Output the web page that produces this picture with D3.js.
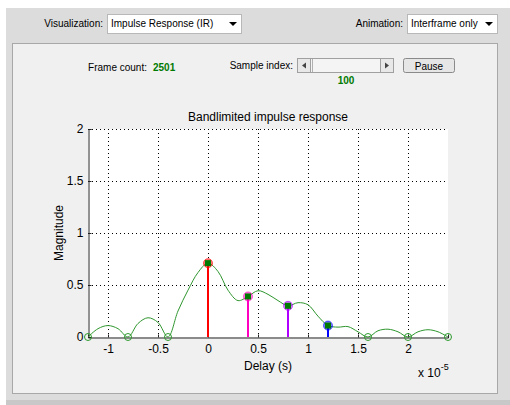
<!DOCTYPE html>
<html>
<head>
<meta charset="utf-8">
<script src="https://cdn.jsdelivr.net/npm/d3@7"></script>
<style>
  body { margin: 0; background: #fff; }
  text { font-family: "Liberation Sans", Arial, sans-serif; }
</style>
</head>
<body>
<script>
// curve (delay in units of 1e-5 s)
var curveDelay = [-1.2, -1.1, -1.0, -0.9, -0.8, -0.7, -0.6, -0.5, -0.4, -0.3, -0.2, -0.1, 0,
                  0.1, 0.2, 0.3, 0.4, 0.5, 0.6, 0.7, 0.8, 0.9, 1.0, 1.1, 1.2, 1.3, 1.4, 1.5,
                  1.6, 1.7, 1.8, 1.9, 2.0, 2.1, 2.2, 2.3, 2.4];
var curveMag = [0, 0.08, 0.11, 0.08, 0, 0.13, 0.185, 0.14, 0, 0.25, 0.45, 0.62, 0.71,
                0.63, 0.45, 0.35, 0.39, 0.445, 0.41, 0.35, 0.30, 0.33, 0.31, 0.20, 0.11, 0.095, 0.10, 0.05,
                0, 0.06, 0.075, 0.05, 0, 0.05, 0.07, 0.05, 0];
var tapDelay = [0, 0.4, 0.8, 1.2];
var tapMag = [0.71, 0.39, 0.30, 0.11];
var tapColor = ["#ff0000", "#ff00c0", "#b000ff", "#0000ff"];
var zeroDelay = [-1.2, -0.8, -0.4, 1.6, 2.0, 2.4];
var xTicks = [-1, -0.5, 0, 0.5, 1, 1.5, 2];
var yTicks = [0, 0.5, 1, 1.5, 2];

var svg = d3.select("body").append("svg")
    .attr("width", 510)
    .attr("height", 405);

// window frame
svg.append("rect").attr("x", 6).attr("y", 8).attr("width", 504).attr("height", 397).attr("fill", "#dcdcdc");
svg.append("rect").attr("x", 6).attr("y", 400).attr("width", 504).attr("height", 5).attr("fill", "#c8c8c8");
svg.append("rect").attr("x", 12.5).attr("y", 43.5).attr("width", 485).attr("height", 350)
    .attr("fill", "#f0f0f0").attr("stroke", "#a8a8a8");

// top controls
function dropdown(x, w, label, value) {
  svg.append("text").attr("x", x - 4).attr("y", 27).attr("text-anchor", "end")
      .attr("font-size", 10).attr("fill", "#000").text(label);
  svg.append("rect").attr("x", x + 0.5).attr("y", 14.5).attr("width", w).attr("height", 19)
      .attr("fill", "#fff").attr("stroke", "#b8b8b8");
  svg.append("text").attr("x", x + 4).attr("y", 27).attr("font-size", 10).text(value);
  var ax = x + w - 8;
  svg.append("path").attr("d", "M" + (ax - 4) + ",22 L" + (ax + 4) + ",22 L" + ax + ",26 Z").attr("fill", "#000");
}
dropdown(107, 134, "Visualization:", "Impulse Response (IR)");
dropdown(407, 90, "Animation:", "Interframe only");

svg.append("text").attr("x", 147).attr("y", 71).attr("text-anchor", "end").attr("font-size", 10).text("Frame count:");
svg.append("text").attr("x", 153).attr("y", 71).attr("font-size", 10).attr("font-weight", "bold")
    .attr("fill", "#007a00").text("2501");
svg.append("text").attr("x", 293).attr("y", 69).attr("text-anchor", "end").attr("font-size", 10).text("Sample index:");

// slider
svg.append("rect").attr("x", 297.5).attr("y", 58.5).attr("width", 96).attr("height", 14)
    .attr("fill", "#f4f4f4").attr("stroke", "#a0a0a0");
svg.append("rect").attr("x", 297.5).attr("y", 58.5).attr("width", 13).attr("height", 14)
    .attr("fill", "#e8e8e8").attr("stroke", "#a0a0a0");
svg.append("rect").attr("x", 380.5).attr("y", 58.5).attr("width", 13).attr("height", 14)
    .attr("fill", "#e8e8e8").attr("stroke", "#a0a0a0");
svg.append("path").attr("d", "M302,65.5 L306,62.5 L306,68.5 Z").attr("fill", "#444");
svg.append("path").attr("d", "M389,65.5 L385,62.5 L385,68.5 Z").attr("fill", "#444");
svg.append("line").attr("x1", 312.5).attr("x2", 312.5).attr("y1", 59).attr("y2", 72).attr("stroke", "#b0b0b0");
svg.append("text").attr("x", 346).attr("y", 84).attr("text-anchor", "middle").attr("font-size", 10)
    .attr("font-weight", "bold").attr("fill", "#007a00").text("100");

// pause button
svg.append("rect").attr("x", 403.5).attr("y", 58.5).attr("width", 51).attr("height", 14).attr("rx", 2)
    .attr("fill", "#e6e6e6").attr("stroke", "#8a8a8a");
svg.append("text").attr("x", 429).attr("y", 69.5).attr("text-anchor", "middle").attr("font-size", 10).text("Pause");

// plot
var margin = {left: 88, top: 129, right: 448, bottom: 337};
var x = d3.scaleLinear().domain([-1.2, 2.4]).range([margin.left, margin.right]);
var y = d3.scaleLinear().domain([0, 2]).range([margin.bottom, margin.top]);

svg.append("rect").attr("x", margin.left).attr("y", margin.top)
    .attr("width", margin.right - margin.left).attr("height", margin.bottom - margin.top).attr("fill", "#fff");

var grid = svg.append("g").attr("stroke", "#000").attr("stroke-dasharray", "1,3").attr("stroke-width", 1);
xTicks.forEach(function(t) {
  grid.append("line").attr("x1", Math.round(x(t)) + 0.5).attr("x2", Math.round(x(t)) + 0.5)
      .attr("y1", margin.top).attr("y2", margin.bottom);
});
yTicks.slice(1).forEach(function(t) {
  grid.append("line").attr("x1", margin.left).attr("x2", margin.right)
      .attr("y1", Math.round(y(t)) + 0.5).attr("y2", Math.round(y(t)) + 0.5);
});

function plain(d) { return String(d); }
svg.append("g")
    .attr("transform", "translate(0," + (margin.bottom + 0.5) + ")")
    .call(d3.axisBottom(x).tickValues(xTicks).tickSize(-3).tickPadding(7).tickFormat(plain))
    .call(function(g) {
      g.select(".domain").attr("stroke", "#262626");
      g.selectAll("line").attr("stroke", "#262626");
      g.selectAll("text").attr("font-size", 12).attr("fill", "#000").attr("font-family", "Liberation Sans, Arial");
    });
svg.append("g")
    .attr("transform", "translate(" + (margin.left + 0.5) + ",0)")
    .call(d3.axisLeft(y).tickValues(yTicks).tickSize(-3).tickPadding(5).tickFormat(plain))
    .call(function(g) {
      g.select(".domain").attr("stroke", "#262626");
      g.selectAll("line").attr("stroke", "#262626");
      g.selectAll("text").attr("font-size", 12).attr("fill", "#000").attr("font-family", "Liberation Sans, Arial");
    });

// titles
svg.append("text").attr("x", 268).attr("y", 121).attr("text-anchor", "middle").attr("font-size", 12)
    .text("Bandlimited impulse response");
svg.append("text").attr("x", 268).attr("y", 370).attr("text-anchor", "middle").attr("font-size", 12)
    .text("Delay (s)");
svg.append("text").attr("transform", "translate(63,233) rotate(-90)").attr("text-anchor", "middle")
    .attr("font-size", 12).text("Magnitude");
var ex = svg.append("text").attr("x", 418).attr("y", 377).attr("font-size", 12);
ex.append("tspan").text("x 10");
ex.append("tspan").attr("dy", -7).attr("font-size", 9).text("-5");

// curve
var pts = curveDelay.map(function(d, i) { return [d, curveMag[i]]; });
svg.append("path")
    .datum(pts)
    .attr("fill", "none")
    .attr("stroke", "#2e962e")
    .attr("stroke-width", 1)
    .attr("d", d3.line().x(function(d) { return x(d[0]); }).y(function(d) { return y(d[1]); })
        .curve(d3.curveCatmullRom.alpha(0.5)));

// zero markers
svg.selectAll(".zero")
    .data(zeroDelay)
    .enter().append("circle")
    .attr("class", "zero")
    .attr("cx", function(d) { return x(d); })
    .attr("cy", y(0))
    .attr("r", 3.5)
    .attr("fill", "none")
    .attr("stroke", "#2e9a2e")
    .attr("stroke-width", 1);

// stems
tapDelay.forEach(function(d, i) {
  svg.append("line").attr("x1", x(d)).attr("x2", x(d)).attr("y1", y(0)).attr("y2", y(tapMag[i]))
      .attr("stroke", tapColor[i]).attr("stroke-width", 2);
  svg.append("circle").attr("cx", x(d)).attr("cy", y(tapMag[i])).attr("r", 4.5)
      .attr("fill", tapColor[i]).attr("fill-opacity", 0.5).attr("stroke", tapColor[i]).attr("stroke-opacity", 0.6);
  svg.append("rect").attr("x", x(d) - 3).attr("y", y(tapMag[i]) - 3).attr("width", 6).attr("height", 6)
      .attr("fill", "#007a00");
});
</script>
</body>
</html>
